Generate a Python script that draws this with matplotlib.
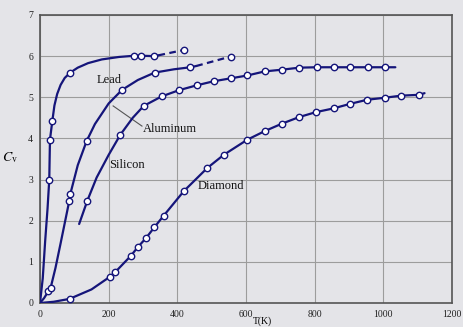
"""Heat capacity of solids vs temperature."""

import matplotlib
matplotlib.use('Agg')
import matplotlib.pyplot as plt

plt.rcParams['font.family'] = ['Liberation Serif', 'DejaVu Serif']
plt.rcParams['mathtext.fontset'] = 'stix'

navy = '#15157a'
paper = '#e4e4e8'

# curves (T in K, Cv)
lead_t = [0, 8, 15, 22, 27, 29, 36, 42, 50, 60, 72, 88, 110, 140, 180, 230, 275, 295, 333, 345]
lead_c = [0, 0.6, 1.5, 2.3, 3.0, 3.97, 4.43, 4.8, 5.08, 5.3, 5.47, 5.6, 5.72, 5.83, 5.92, 5.98,
          6.01, 6.01, 6.0, 6.02]
lead_dash_t = [345, 419]
lead_dash_c = [6.02, 6.15]
lead_mt = [27, 29, 36, 88, 275, 295, 333, 419]
lead_mc = [2.99, 3.97, 4.43, 5.6, 6.01, 6.01, 6.0, 6.15]

alu_t = [0, 12, 24, 31, 45, 60, 85, 88, 110, 136, 160, 200, 239, 285, 334, 390, 438, 455]
alu_c = [0, 0.12, 0.28, 0.37, 0.85, 1.45, 2.47, 2.64, 3.35, 3.94, 4.35, 4.85, 5.18, 5.42,
         5.6, 5.68, 5.73, 5.76]
alu_dash_t = [455, 555]
alu_dash_c = [5.76, 5.99]
alu_mt = [24, 31, 85, 88, 136, 239, 334, 438, 555]
alu_mc = [0.28, 0.37, 2.47, 2.64, 3.94, 5.18, 5.6, 5.73, 5.99]

si_t = [114, 138, 165, 200, 234, 270, 302, 354, 404, 456, 506, 555, 604, 655, 704, 755,
        806, 855, 904, 955, 1005, 1035]
si_c = [1.92, 2.49, 3.05, 3.6, 4.09, 4.5, 4.79, 5.02, 5.17, 5.29, 5.39, 5.46, 5.53, 5.63,
        5.67, 5.72, 5.73, 5.73, 5.73, 5.73, 5.73, 5.73]
si_mt = [138, 234, 302, 354, 404, 456, 506, 555, 604, 655, 704, 755, 806, 855, 904, 955, 1005]
si_mc = [2.49, 4.09, 4.79, 5.02, 5.17, 5.29, 5.39, 5.46, 5.53, 5.63, 5.67, 5.72, 5.73,
         5.73, 5.73, 5.73, 5.73]

dia_t = [0, 40, 86, 150, 204, 219, 265, 284, 309, 333, 360, 419, 487, 535, 604,
         655, 705, 755, 804, 855, 903, 953, 1005, 1052, 1104, 1120]
dia_c = [0, 0.03, 0.1, 0.33, 0.64, 0.75, 1.15, 1.35, 1.58, 1.84, 2.12, 2.72, 3.28,
         3.6, 3.97, 4.18, 4.36, 4.52, 4.64, 4.73, 4.84, 4.94, 4.99, 5.04, 5.06, 5.1]
dia_mt = dia_t[2:3] + dia_t[4:-1]
dia_mc = dia_c[2:3] + dia_c[4:-1]

xticks = [0, 200, 400, 600, 800, 1000, 1200]
yticks = [0, 1, 2, 3, 4, 5, 6, 7]

fig = plt.figure(figsize=(4.64, 3.27), dpi=100)
fig.patch.set_facecolor(paper)
ax = fig.add_axes([40/464, 1 - 303/327, 412/464, 288/327])
ax.set_facecolor(paper)

line_kw = dict(color=navy, lw=1.6, solid_capstyle='round', solid_joinstyle='round', zorder=3)
mark_kw = dict(ls='none', marker='o', ms=4.6, mfc='white', mec=navy, mew=1.0, zorder=4)

ax.plot(lead_t, lead_c, **line_kw)
ax.plot(lead_dash_t, lead_dash_c, ls=(0, (3, 2)), **line_kw)
ax.plot(lead_mt, lead_mc, **mark_kw)

ax.plot(alu_t, alu_c, **line_kw)
ax.plot(alu_dash_t, alu_dash_c, ls=(0, (3, 2)), **line_kw)
ax.plot(alu_mt, alu_mc, **mark_kw)

ax.plot(si_t, si_c, **line_kw)
ax.plot(si_mt, si_mc, **mark_kw)

ax.plot(dia_t, dia_c, **line_kw)
ax.plot(dia_mt, dia_mc, **mark_kw)

# labels on the curves
text_kw = dict(fontsize=9, color='#111111', va='center')
ax.text(166, 5.42, 'Lead', **text_kw)
ax.text(300, 4.22, 'Aluminum', **text_kw)
ax.plot([213, 297], [4.79, 4.3], color='#555555', lw=0.8)
ax.text(200, 3.35, 'Silicon', **text_kw)
ax.text(460, 2.85, 'Diamond', **text_kw)

ax.set_xlim(0, 1200)
ax.set_ylim(0, 7)
ax.set_xticks(xticks)
ax.set_yticks(yticks)
ax.tick_params(length=0, labelsize=7, pad=5, colors='#222222')
ax.grid(True, color='#9c9c9c', lw=0.8)
ax.set_axisbelow(True)
for s in ax.spines.values():
    s.set_color('#555555')
    s.set_linewidth(1.2)

fig.text(10/464, 1 - 158/327, r'$C_\mathrm{v}$', fontsize=10, ha='center', va='center')
fig.text(0.565, 0.004, 'T(K)', fontsize=7, ha='center', va='bottom')

fig.savefig('out.png', dpi=100, facecolor=paper)
